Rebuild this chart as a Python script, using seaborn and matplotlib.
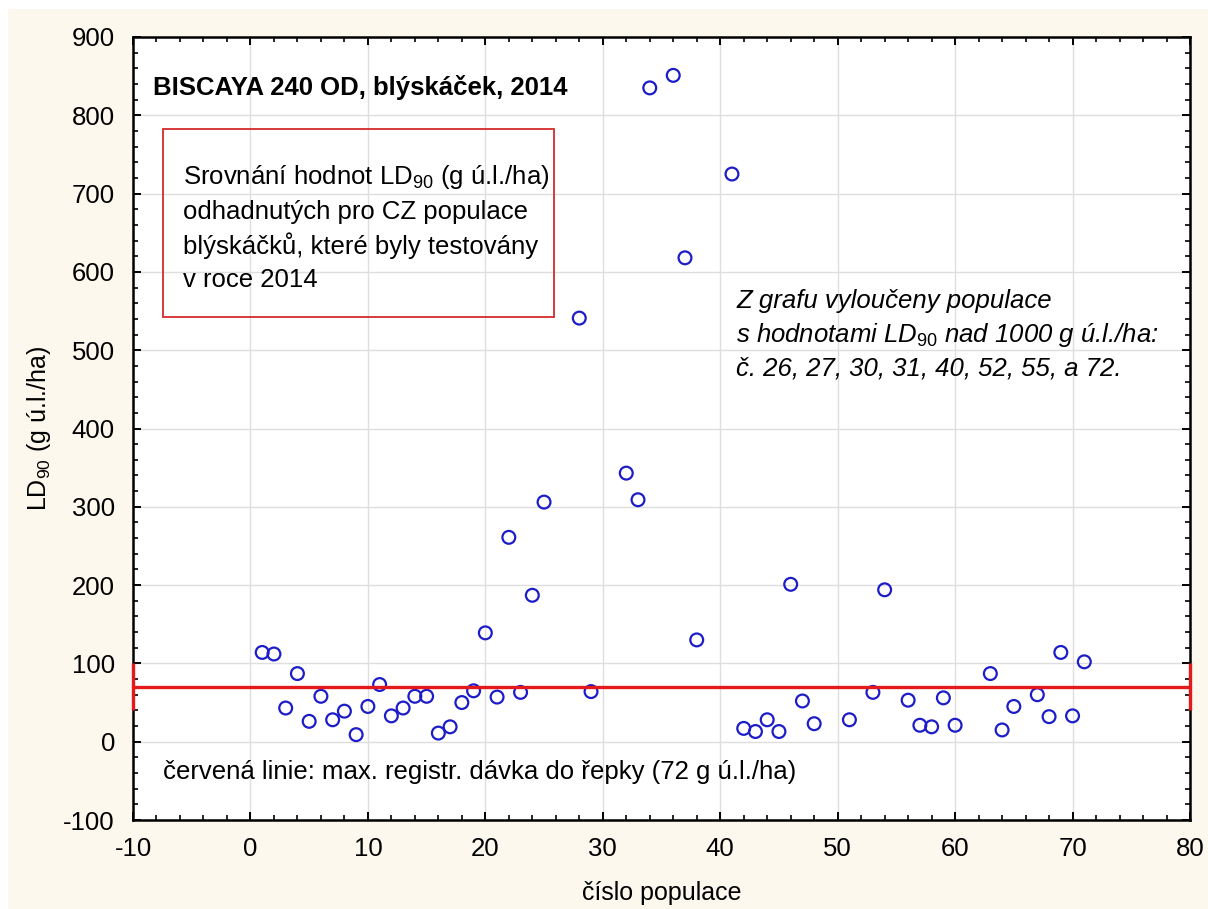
import matplotlib
matplotlib.use('Agg')
import matplotlib.pyplot as plt
from matplotlib.patches import Rectangle
from matplotlib.ticker import MultipleLocator
import pandas as pd
import seaborn as sns

# population numbers and their LD90 values (g a.i./ha)
populace = [1, 2, 3, 4, 5, 6, 7, 8, 9, 10, 11, 12, 13, 14, 15, 16, 17, 18, 19, 20,
            21, 22, 23, 24, 25, 28, 29, 32, 33, 34, 36, 37, 38, 41, 42, 43, 44, 45,
            46, 47, 48, 51, 53, 54, 56, 57, 58, 59, 60, 63, 64, 65, 67, 68, 69, 70, 71]
ld90 = [114, 112, 43, 87, 26, 58, 28, 39, 9, 45, 73, 33, 43, 58, 58, 11, 19, 50, 65, 139,
        57, 261, 63, 187, 306, 541, 64, 343, 309, 835, 851, 618, 130, 725, 17, 13, 28, 13,
        201, 52, 23, 28, 63, 194, 53, 21, 19, 56, 21, 87, 15, 45, 60, 32, 114, 33, 102]

# red line: max registered dose, drawn across the whole x range with end bars
limit_x = [-10, 80]
limit_y = [70, 70]
limit_bar = 30

x_ticks = list(range(-10, 81, 10))
y_ticks = list(range(-100, 901, 100))

title = 'BISCAYA 240 OD, blýskáček, 2014'
box_lines = ['Srovnání hodnot LD$_{90}$ (g ú.l./ha)',
             'odhadnutých pro CZ populace',
             'blýskáčků, které byly testovány',
             'v roce 2014']
note_lines = ['Z grafu vyloučeny populace',
              's hodnotami $LD_{\\mathit{90}}$ nad 1000 g ú.l./ha:',
              'č. 26, 27, 30, 31, 40, 52, 55, a 72.']
red_note = 'červená linie: max. registr. dávka do řepky (72 g ú.l./ha)'

df = pd.DataFrame({'populace': populace, 'ld90': ld90})

sns.set_style('ticks')
plt.rcParams['font.family'] = ['Liberation Sans', 'DejaVu Sans']
plt.rcParams['mathtext.fontset'] = 'custom'
plt.rcParams['mathtext.rm'] = 'Liberation Sans'
plt.rcParams['mathtext.it'] = 'Liberation Sans:italic'
plt.rcParams['mathtext.bf'] = 'Liberation Sans:bold'
plt.rcParams['axes.unicode_minus'] = False
for key in ['text.color', 'axes.labelcolor', 'xtick.color', 'ytick.color']:
    plt.rcParams[key] = 'black'

cream = '#fcf8ee'
fig = plt.figure(figsize=(12.08, 9.09), dpi=100, facecolor='white')
# cream panel behind the chart (thin white strip at top and left)
fig.patches.append(Rectangle((8 / 1208, 0), 1, 1 - 9 / 909, transform=fig.transFigure,
                             facecolor=cream, edgecolor='none', zorder=-10))
ax = fig.add_axes([133 / 1208, 1 - 820 / 909, (1190 - 133) / 1208, (820 - 37) / 909])
ax.set_facecolor('white')

ax.grid(True, which='major', color='#dedede', linewidth=1.0, zorder=0)
ax.set_axisbelow(True)

sns.scatterplot(data=df, x='populace', y='ld90', ax=ax, marker='o', s=85,
                color='#1c1cc8', facecolor='none', edgecolor='#1c1cc8',
                linewidth=1.6, zorder=3, clip_on=False)
ax.collections[0].set_facecolor('none')

ax.errorbar(limit_x, limit_y, yerr=limit_bar, fmt='-', color='#e3191c',
            linewidth=2.4, elinewidth=2.4, capsize=0, zorder=4, clip_on=False)

ax.set_xlim(-10, 80)
ax.set_ylim(-100, 900)
ax.set_xticks(x_ticks)
ax.set_yticks(y_ticks)
ax.xaxis.set_minor_locator(MultipleLocator(2))
ax.yaxis.set_minor_locator(MultipleLocator(20))
ax.tick_params(which='both', direction='in', top=True, right=True, colors='black')
ax.tick_params(which='major', length=6, width=1.4, labelsize=18.5, pad=12)
ax.tick_params(which='minor', length=3.5, width=1.2)
ax.tick_params(axis='y', which='major', pad=13)
for sp in ax.spines.values():
    sp.set_color('black')
    sp.set_linewidth(1.8)

ax.set_xlabel('číslo populace', fontsize=18)
ax.set_ylabel('LD$_{90}$ (g ú.l./ha)', fontsize=18)
ax.xaxis.set_label_coords(0.5, -0.078)
ax.yaxis.set_label_coords(-0.076, 0.5)

ax.text(0.0189, 0.936, title, transform=ax.transAxes, fontsize=18.5,
        fontweight='bold', ha='left', va='center')

ax.add_patch(Rectangle((0.0284, 0.6424), 0.370, 0.2401, transform=ax.transAxes,
                       fill=False, edgecolor='#d42a2a', linewidth=1.3, zorder=5))
box_y = [0.8212, 0.7765, 0.7331, 0.6897]
for line, yy in zip(box_lines, box_y):
    ax.text(0.0473, yy, line, transform=ax.transAxes, fontsize=18.5,
            ha='left', va='center')

note_y = [0.6628, 0.6194, 0.5760]
for line, yy in zip(note_lines, note_y):
    ax.text(0.5705, yy, line, transform=ax.transAxes, fontsize=18.5,
            style='italic', ha='left', va='center')

ax.text(0.0284, 0.0613, red_note, transform=ax.transAxes, fontsize=18.5,
        ha='left', va='center')

fig.savefig('out.png', dpi=100, facecolor=fig.get_facecolor())
